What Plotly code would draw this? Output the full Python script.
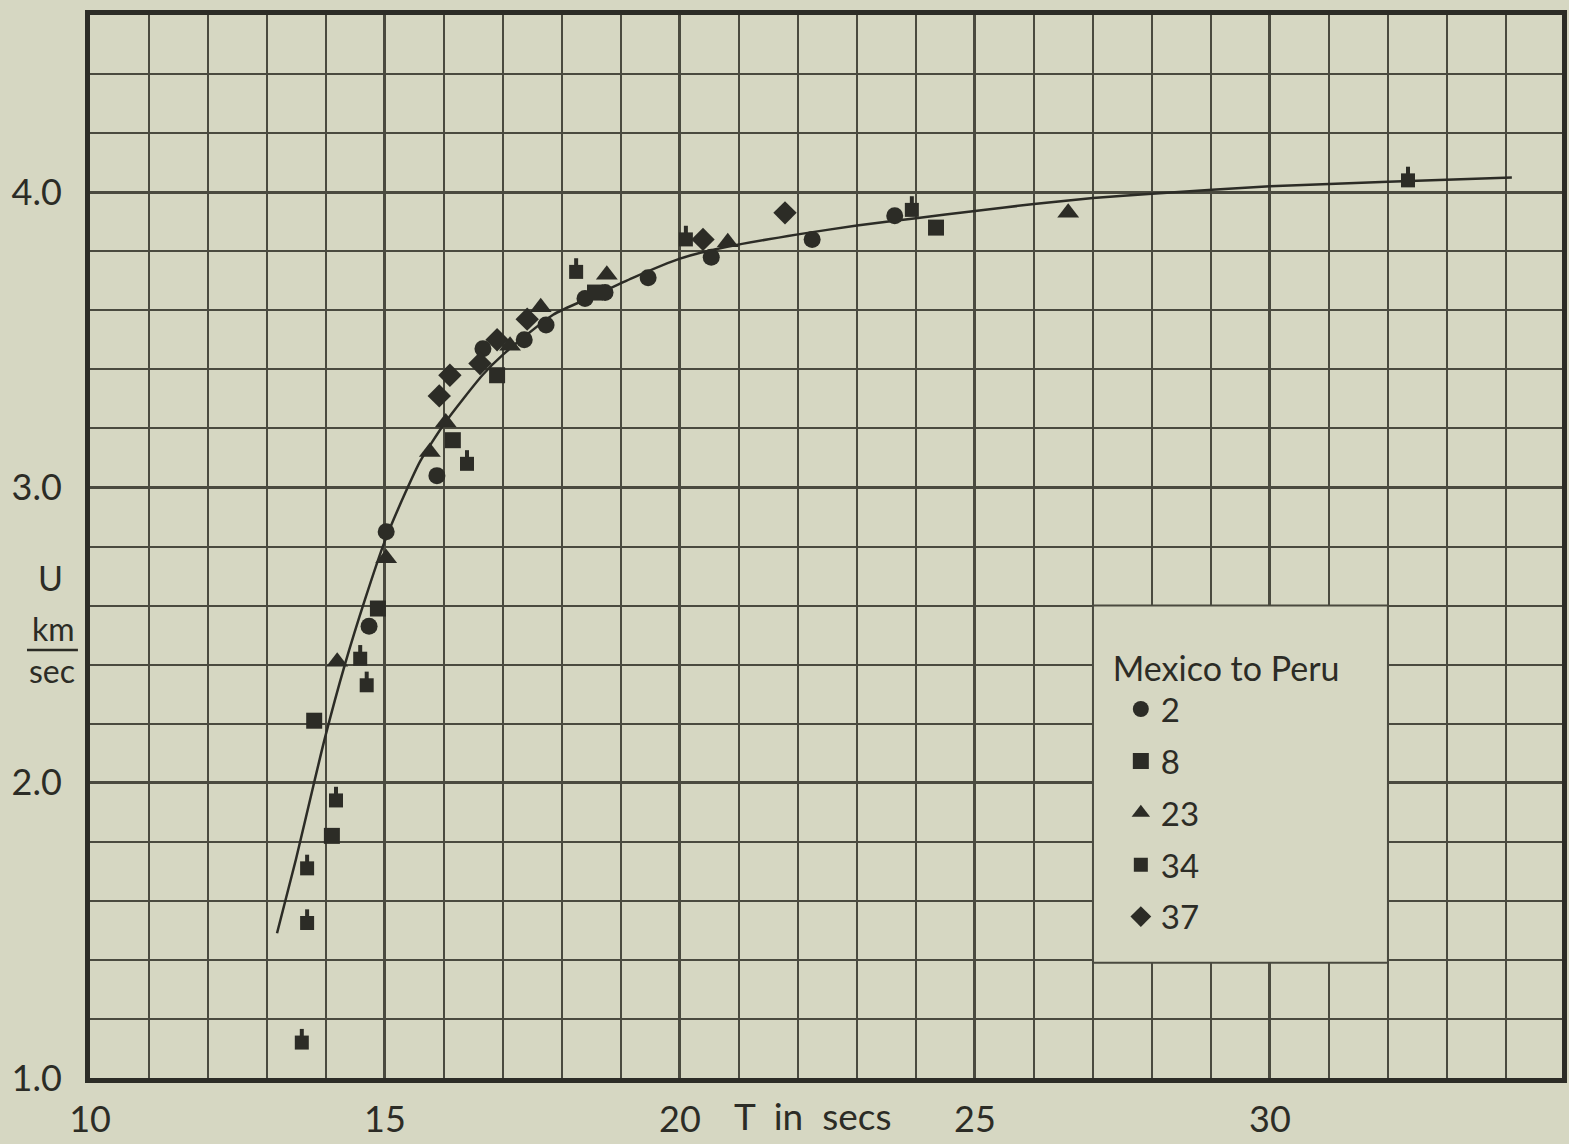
import plotly.graph_objects as go

BG = "#d6d7c2"
INK = "#2c2c26"
GRID = "#4a4a3f"
FONT = "Lato"

# Curve (smooth fit drawn through the data)
curve_t = [13.17, 13.49, 13.81, 13.98, 14.32, 14.66, 15.00, 15.34, 15.60, 16.02, 16.65, 17.00,
           17.85, 18.50, 19.20, 20.00, 20.80, 22.00, 23.00, 24.00, 25.00, 26.00, 27.00,
           28.00, 30.00, 32.00, 34.10]
curve_u = [1.49, 1.74, 2.01, 2.15, 2.40, 2.62, 2.82, 2.98, 3.09, 3.22, 3.38, 3.45,
           3.585, 3.645, 3.71, 3.775, 3.815, 3.857, 3.887, 3.912, 3.936, 3.96, 3.98,
           3.995, 4.02, 4.035, 4.05]

# Station 2 (circles)
t2 = [14.73, 15.02, 15.88, 16.66, 17.36, 17.73, 18.39, 18.73, 19.46, 20.53, 22.24, 23.64]
u2 = [2.53, 2.85, 3.04, 3.47, 3.50, 3.55, 3.64, 3.66, 3.71, 3.78, 3.84, 3.92]

# Station 8 (squares)
t8 = [13.80, 14.10, 14.88, 16.15, 16.90, 18.56, 24.34]
u8 = [2.21, 1.82, 2.59, 3.16, 3.38, 3.66, 3.88]

# Station 23 (triangles)
t23 = [14.19, 15.02, 15.76, 16.03, 17.12, 17.64, 18.76, 20.81, 26.58]
u23 = [2.41, 2.76, 3.12, 3.22, 3.48, 3.61, 3.72, 3.83, 3.93]

# Station 34 (square with small tab)
t34 = [13.59, 13.68, 13.68, 14.17, 14.58, 14.69, 16.39, 18.24, 20.10, 23.93, 32.34]
u34 = [1.12, 1.525, 1.71, 1.94, 2.42, 2.33, 3.08, 3.73, 3.84, 3.94, 4.04]

# Station 37 (diamonds)
t37 = [15.92, 16.10, 16.61, 16.90, 17.41, 20.39, 21.78]
u37 = [3.31, 3.38, 3.42, 3.50, 3.57, 3.84, 3.93]

x_range = [10, 34.95]
y_range = [1.0, 4.6]
tab_shift = 0.032  # vertical offset (in U units) of the tab on station-34 marks

fig = go.Figure()

fig.add_trace(go.Scatter(x=curve_t, y=curve_u, mode="lines",
                         line=dict(color=INK, width=2.5, shape="spline", smoothing=0.6),
                         showlegend=False, hoverinfo="skip"))

mk_line = dict(width=0)
fig.add_trace(go.Scatter(x=t2, y=u2, mode="markers", name="2", legendgroup="g2",
                         marker=dict(symbol="circle", size=17, color=INK, line=mk_line)))
fig.add_trace(go.Scatter(x=t8, y=u8, mode="markers", name="8", legendgroup="g8",
                         marker=dict(symbol="square", size=16, color=INK, line=mk_line)))
fig.add_trace(go.Scatter(x=t23, y=u23, mode="markers", name="23", legendgroup="g23",
                         marker=dict(symbol="triangle-up", size=19, color=INK, line=mk_line)))
fig.add_trace(go.Scatter(x=t34, y=u34, mode="markers", name="34", legendgroup="g34",
                         marker=dict(symbol="square", size=14, color=INK, line=mk_line)))
fig.add_trace(go.Scatter(x=t34, y=u34, mode="markers", name="34", legendgroup="g34",
                         yaxis="y2", showlegend=False,
                         marker=dict(symbol="line-ns", size=6, color=INK,
                                     line=dict(width=4, color=INK))))
fig.add_trace(go.Scatter(x=t37, y=u37, mode="markers", name="37", legendgroup="g37",
                         marker=dict(symbol="diamond", size=18, color=INK, line=mk_line)))

fig.update_layout(
    width=1569, height=1144,
    margin=dict(l=90, r=7, t=15, b=66, autoexpand=False),
    paper_bgcolor=BG, plot_bgcolor=BG,
    font=dict(family=FONT, color=INK),
    xaxis=dict(range=x_range, tickmode="linear", tick0=10, dtick=5, automargin=False,
               showline=True, linewidth=5, linecolor=INK, mirror=True,
               showgrid=True, gridcolor=GRID, gridwidth=2.5, zeroline=False,
               ticks="", ticklabelstandoff=6, tickfont=dict(size=36, color=INK),
               minor=dict(dtick=1, showgrid=True, gridcolor=GRID, gridwidth=1.8)),
    yaxis=dict(range=y_range, tickmode="linear", tick0=1, dtick=1, tickformat=".1f",
               automargin=False,
               showline=True, linewidth=5, linecolor=INK, mirror=True,
               showgrid=True, gridcolor=GRID, gridwidth=2.5, zeroline=False,
               ticks="", ticklabelstandoff=16, tickfont=dict(size=36, color=INK),
               minor=dict(dtick=0.2, showgrid=True, gridcolor=GRID, gridwidth=1.8)),
    yaxis2=dict(range=[y_range[0] - tab_shift, y_range[1] - tab_shift], overlaying="y",
                visible=False, showgrid=False, automargin=False),
    showlegend=True,
    legend=dict(x=0.6935, y=0.415, xanchor="left", yanchor="top",
                bgcolor="rgba(0,0,0,0)", borderwidth=0, indentation=10,
                font=dict(size=33, color=INK, family=FONT),
                title=dict(text="Mexico to Peru", font=dict(size=34, color=INK, family=FONT)),
                tracegroupgap=6),
    shapes=[
        dict(type="rect", xref="x", yref="y", x0=27, x1=32, y0=1.39, y1=2.6,
             fillcolor=BG, line=dict(color=GRID, width=2), layer="between"),
        dict(type="line", xref="paper", yref="paper", x0=-0.0428, x1=-0.0082,
             y0=0.4026, y1=0.4026, line=dict(color=INK, width=2.5)),
    ],
    annotations=[
        dict(text="T  in  secs", xref="x", yref="paper", x=22.25, y=0, yanchor="top",
             yshift=-13, showarrow=False, font=dict(size=37, color=INK)),
        dict(text="U", xref="paper", yref="paper", x=-0.0265, y=0.4704,
             xanchor="center", yanchor="middle", showarrow=False, font=dict(size=34, color=INK)),
        dict(text="km", xref="paper", yref="paper", x=-0.0245, y=0.4225,
             xanchor="center", yanchor="middle", showarrow=False, font=dict(size=32, color=INK)),
        dict(text="sec", xref="paper", yref="paper", x=-0.0255, y=0.3830,
             xanchor="center", yanchor="middle", showarrow=False, font=dict(size=32, color=INK)),
    ],
)

fig.write_html("out.html", config={"displayModeBar": False},
               post_script="document.body.style.margin='0';document.body.style.overflow='hidden';")
